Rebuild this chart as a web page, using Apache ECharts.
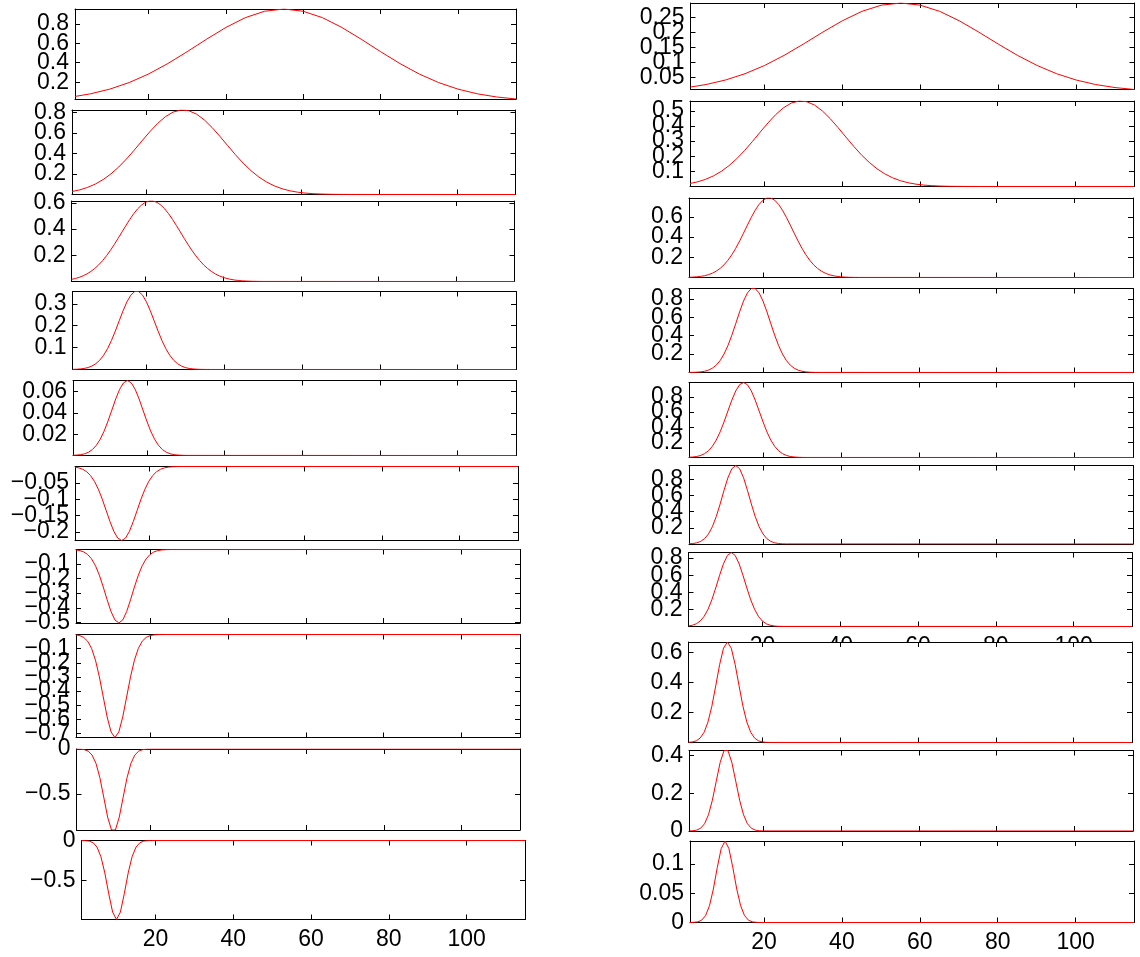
<!DOCTYPE html>
<html>
<head>
<meta charset="utf-8">
<script src="https://cdn.jsdelivr.net/npm/echarts@6/dist/echarts.min.js"></script>
<style>
  html, body { margin: 0; padding: 0; background: #fff; }
  #chart { width: 1140px; height: 957px; }
</style>
</head>
<body>
<div id="chart"></div>
<script>
// x axis of every panel
const xExtent = [1, 115];
const xTickValues = [20, 40, 60, 80, 100];

// left column curves, top to bottom, as [x, y] pairs
const curveL1 = [[1,0.0534],[5,0.0806],[10,0.1288],[15,0.196],[20,0.2839],[25,0.3914],[30,0.5135],[35,0.6413],[40,0.7622],[45,0.8625],[50,0.9288],[55,0.952],[60,0.9288],[65,0.8625],[70,0.7622],[75,0.6413],[80,0.5135],[85,0.3914],[90,0.2839],[95,0.196],[100,0.1288],[105,0.0806],[110,0.048],[115,0.0272]];
const curveL2 = [[1,0.0287],[3,0.0451],[5,0.0688],[7,0.1014],[9,0.1448],[11,0.1998],[13,0.2669],[15,0.3448],[17,0.431],[19,0.5212],[21,0.6098],[23,0.6903],[25,0.756],[27,0.8011],[29,0.8212],[31,0.8144],[33,0.7814],[35,0.7254],[37,0.6515],[39,0.5661],[41,0.4759],[43,0.3871],[45,0.3046],[47,0.2319],[49,0.1708],[51,0.1217],[53,0.0839],[55,0.056],[57,0.0361],[59,0.0225],[61,0.0136],[63,0.008],[65,0.0045],[67,0.0025],[69,0.0013],[71,0.0007],[75,0.0002],[115,0]];
const curveL3 = [[1,0.0162],[2,0.0229],[3,0.0318],[4,0.0434],[5,0.0582],[6,0.0768],[7,0.0996],[8,0.1269],[9,0.159],[10,0.1957],[11,0.2368],[12,0.2815],[13,0.329],[14,0.3779],[15,0.4266],[16,0.4733],[17,0.5161],[18,0.5531],[19,0.5826],[20,0.6031],[21,0.6136],[22,0.6136],[23,0.6031],[24,0.5826],[25,0.5531],[26,0.5161],[27,0.4733],[28,0.4266],[29,0.3779],[30,0.329],[31,0.2815],[32,0.2368],[33,0.1957],[34,0.159],[35,0.1269],[36,0.0996],[37,0.0768],[38,0.0582],[39,0.0434],[40,0.0318],[41,0.0229],[42,0.0162],[43,0.0112],[44,0.0077],[45,0.0052],[46,0.0034],[47,0.0022],[48,0.0014],[50,0.0005],[115,0]];
const curveL4 = [[1,0.0006],[2,0.0012],[3,0.0025],[4,0.0048],[5,0.0089],[6,0.0157],[7,0.0265],[8,0.0424],[9,0.065],[10,0.0948],[11,0.1319],[12,0.1752],[13,0.2219],[14,0.268],[15,0.3088],[16,0.3395],[17,0.3559],[18,0.3559],[19,0.3395],[20,0.3088],[21,0.268],[22,0.2219],[23,0.1752],[24,0.1319],[25,0.0948],[26,0.065],[27,0.0424],[28,0.0265],[29,0.0157],[30,0.0089],[31,0.0048],[32,0.0025],[33,0.0012],[34,0.0006],[36,0.0001],[115,0]];
const curveL5 = [[1,0.0002],[2,0.0004],[3,0.0008],[4,0.0016],[5,0.0031],[6,0.0056],[7,0.0095],[8,0.0152],[9,0.0228],[10,0.0322],[11,0.0426],[12,0.0531],[13,0.062],[14,0.0681],[15,0.0703],[16,0.0681],[17,0.062],[18,0.0531],[19,0.0426],[20,0.0322],[21,0.0228],[22,0.0152],[23,0.0095],[24,0.0056],[25,0.0031],[26,0.0016],[27,0.0008],[28,0.0004],[29,0.0002],[30,0.0001],[115,0]];
const curveL6 = [[1,-0.002],[2,-0.0042],[3,-0.0085],[4,-0.0158],[5,-0.0276],[6,-0.0451],[7,-0.0692],[8,-0.0993],[9,-0.1336],[10,-0.1681],[11,-0.1982],[12,-0.2187],[13,-0.226],[14,-0.2187],[15,-0.1982],[16,-0.1681],[17,-0.1336],[18,-0.0993],[19,-0.0692],[20,-0.0451],[21,-0.0276],[22,-0.0158],[23,-0.0085],[24,-0.0042],[25,-0.002],[26,-0.0009],[27,-0.0004],[28,-0.0001],[115,0]];
const curveL7 = [[1,-0.0031],[2,-0.0075],[3,-0.0168],[4,-0.0342],[5,-0.0642],[6,-0.1108],[7,-0.1759],[8,-0.2568],[9,-0.3447],[10,-0.4252],[11,-0.4823],[12,-0.503],[13,-0.4823],[14,-0.4252],[15,-0.3447],[16,-0.2568],[17,-0.1759],[18,-0.1108],[19,-0.0642],[20,-0.0342],[21,-0.0168],[22,-0.0075],[23,-0.0031],[24,-0.0012],[25,-0.0004],[115,0]];
const curveL8 = [[1,-0.0028],[2,-0.0081],[3,-0.0208],[4,-0.0478],[5,-0.0985],[6,-0.1816],[7,-0.2993],[8,-0.4415],[9,-0.5829],[10,-0.6886],[11,-0.728],[12,-0.6886],[13,-0.5829],[14,-0.4415],[15,-0.2993],[16,-0.1816],[17,-0.0985],[18,-0.0478],[19,-0.0208],[20,-0.0081],[21,-0.0028],[22,-0.0009],[23,-0.0002],[115,0]];
const curveL9 = [[1,-0.0004],[2,-0.0017],[3,-0.007],[4,-0.0234],[5,-0.0664],[6,-0.1581],[7,-0.3166],[8,-0.5331],[9,-0.7543],[10,-0.8973],[11,-0.8973],[12,-0.7543],[13,-0.5331],[14,-0.3166],[15,-0.1581],[16,-0.0664],[17,-0.0234],[18,-0.007],[19,-0.0017],[20,-0.0004],[115,0]];
const curveL10 = [[1,-0.0003],[2,-0.0018],[3,-0.0078],[4,-0.0283],[5,-0.0838],[6,-0.2038],[7,-0.407],[8,-0.6669],[9,-0.8969],[10,-0.99],[11,-0.8969],[12,-0.6669],[13,-0.407],[14,-0.2038],[15,-0.0838],[16,-0.0283],[17,-0.0078],[18,-0.0018],[19,-0.0003],[115,0]];

// right column curves, top to bottom
const curveR1 = [[1,0.0168],[5,0.0253],[10,0.0405],[15,0.0616],[20,0.0892],[25,0.1229],[30,0.1613],[35,0.2014],[40,0.2394],[45,0.2709],[50,0.2917],[55,0.299],[60,0.2917],[65,0.2709],[70,0.2394],[75,0.2014],[80,0.1613],[85,0.1229],[90,0.0892],[95,0.0616],[100,0.0405],[105,0.0253],[110,0.0151],[115,0.0086]];
const curveR2 = [[1,0.0198],[3,0.0311],[5,0.0474],[7,0.0698],[9,0.0997],[11,0.1376],[13,0.1838],[15,0.2374],[17,0.2968],[19,0.3589],[21,0.4199],[23,0.4753],[25,0.5206],[27,0.5516],[29,0.5654],[31,0.5607],[33,0.538],[35,0.4995],[37,0.4486],[39,0.3898],[41,0.3277],[43,0.2665],[45,0.2097],[47,0.1597],[49,0.1176],[51,0.0838],[53,0.0578],[55,0.0385],[57,0.0248],[59,0.0155],[61,0.0094],[63,0.0055],[65,0.0031],[67,0.0017],[69,0.0009],[71,0.0005],[75,0.0001],[115,0]];
const curveR3 = [[1,0.0023],[2,0.004],[3,0.0068],[4,0.0112],[5,0.018],[6,0.0281],[7,0.0426],[8,0.0629],[9,0.0902],[10,0.1258],[11,0.1709],[12,0.2256],[13,0.2896],[14,0.3617],[15,0.4393],[16,0.519],[17,0.5963],[18,0.6664],[19,0.7244],[20,0.7657],[21,0.7873],[22,0.7873],[23,0.7657],[24,0.7244],[25,0.6664],[26,0.5963],[27,0.519],[28,0.4393],[29,0.3617],[30,0.2896],[31,0.2256],[32,0.1709],[33,0.1258],[34,0.0902],[35,0.0629],[36,0.0426],[37,0.0281],[38,0.018],[39,0.0112],[40,0.0068],[41,0.004],[42,0.0023],[44,0.0007],[115,0]];
const curveR4 = [[1,0.0006],[2,0.0014],[3,0.0031],[4,0.0067],[5,0.0135],[6,0.0257],[7,0.0467],[8,0.0802],[9,0.1304],[10,0.201],[11,0.2935],[12,0.406],[13,0.532],[14,0.6606],[15,0.7769],[16,0.8657],[17,0.9138],[18,0.9138],[19,0.8657],[20,0.7769],[21,0.6606],[22,0.532],[23,0.406],[24,0.2935],[25,0.201],[26,0.1304],[27,0.0802],[28,0.0467],[29,0.0257],[30,0.0135],[31,0.0067],[32,0.0031],[33,0.0014],[34,0.0006],[115,0]];
const curveR5 = [[1,0.0029],[2,0.0065],[3,0.0137],[4,0.027],[5,0.0506],[6,0.089],[7,0.1475],[8,0.2305],[9,0.3393],[10,0.4706],[11,0.6151],[12,0.7574],[13,0.8789],[14,0.961],[15,0.99],[16,0.961],[17,0.8789],[18,0.7574],[19,0.6151],[20,0.4706],[21,0.3393],[22,0.2305],[23,0.1475],[24,0.089],[25,0.0506],[26,0.027],[27,0.0137],[28,0.0065],[29,0.0029],[30,0.0012],[31,0.0005],[115,0]];
const curveR6 = [[1,0.0023],[2,0.006],[3,0.0146],[4,0.0323],[5,0.0659],[6,0.1238],[7,0.2137],[8,0.3393],[9,0.4952],[10,0.6646],[11,0.8199],[12,0.9301],[13,0.97],[14,0.9301],[15,0.8199],[16,0.6646],[17,0.4952],[18,0.3393],[19,0.2137],[20,0.1238],[21,0.0659],[22,0.0323],[23,0.0146],[24,0.006],[25,0.0023],[26,0.0008],[115,0]];
const curveR7 = [[1,0.0062],[2,0.0146],[3,0.0318],[4,0.0636],[5,0.1172],[6,0.1993],[7,0.3121],[8,0.4507],[9,0.5998],[10,0.7355],[11,0.8314],[12,0.866],[13,0.8314],[14,0.7355],[15,0.5998],[16,0.4507],[17,0.3121],[18,0.1993],[19,0.1172],[20,0.0636],[21,0.0318],[22,0.0146],[23,0.0062],[24,0.0024],[25,0.0008],[115,0]];
const curveR8 = [[1,0.0011],[2,0.0038],[3,0.0113],[4,0.0293],[5,0.0673],[6,0.1356],[7,0.2407],[8,0.3763],[9,0.5176],[10,0.6267],[11,0.668],[12,0.6267],[13,0.5176],[14,0.3763],[15,0.2407],[16,0.1356],[17,0.0673],[18,0.0293],[19,0.0113],[20,0.0038],[21,0.0011],[22,0.0003],[115,0]];
const curveR9 = [[1,0.0003],[2,0.0014],[3,0.0048],[4,0.0148],[5,0.0387],[6,0.0862],[7,0.1635],[8,0.2642],[9,0.3639],[10,0.427],[11,0.427],[12,0.3639],[13,0.2642],[14,0.1635],[15,0.0862],[16,0.0387],[17,0.0148],[18,0.0048],[19,0.0014],[20,0.0003],[115,0]];
const curveR10 = [[1,0],[2,0.0003],[3,0.0011],[4,0.004],[5,0.0118],[6,0.0286],[7,0.0571],[8,0.0936],[9,0.1259],[10,0.139],[11,0.1259],[12,0.0936],[13,0.0571],[14,0.0286],[15,0.0118],[16,0.004],[17,0.0011],[18,0.0003],[19,0],[115,0]];

// y tick labels of each panel
const yTicksLeft = [
  [0.2, 0.4, 0.6, 0.8],
  [0.2, 0.4, 0.6, 0.8],
  [0.2, 0.4, 0.6],
  [0.1, 0.2, 0.3],
  [0.02, 0.04, 0.06],
  [-0.2, -0.15, -0.1, -0.05],
  [-0.5, -0.4, -0.3, -0.2, -0.1],
  [-0.7, -0.6, -0.5, -0.4, -0.3, -0.2, -0.1],
  [-0.5, 0],
  [-0.5, 0]
];
const yTicksRight = [
  [0.05, 0.1, 0.15, 0.2, 0.25],
  [0.1, 0.2, 0.3, 0.4, 0.5],
  [0.2, 0.4, 0.6],
  [0.2, 0.4, 0.6, 0.8],
  [0.2, 0.4, 0.6, 0.8],
  [0.2, 0.4, 0.6, 0.8],
  [0.2, 0.4, 0.6, 0.8],
  [0.2, 0.4, 0.6],
  [0, 0.2, 0.4],
  [0, 0.05, 0.1]
];

// panel boxes in pixels: [left, top, width, height]
const boxesLeft = [
  [75, 9, 441, 90],
  [72, 110, 443.5, 84.5],
  [71.5, 201, 443, 80.5],
  [72.5, 291.5, 443.5, 78],
  [73, 380.5, 443, 75],
  [75, 466.5, 443, 74],
  [76, 549.5, 444, 73.5],
  [76, 634.5, 444, 103],
  [76.5, 749, 443.5, 81],
  [81.5, 840.5, 443.5, 79]
];
const boxesRight = [
  [690.5, 3, 444, 86.5],
  [690, 101, 444, 85.5],
  [689, 198, 444, 79.5],
  [689, 288.5, 444, 84],
  [689, 382.5, 444, 75],
  [689, 465.5, 444, 78.5],
  [688.5, 552.5, 443.5, 74],
  [688.5, 642, 443.5, 100.5],
  [689, 750.5, 444, 80.5],
  [690, 841, 444, 81.5]
];

const curvesLeft = [curveL1, curveL2, curveL3, curveL4, curveL5, curveL6, curveL7, curveL8, curveL9, curveL10];
const curvesRight = [curveR1, curveR2, curveR3, curveR4, curveR5, curveR6, curveR7, curveR8, curveR9, curveR10];

const FONT = '"Liberation Sans", Arial, Helvetica, sans-serif';
const FONT_SIZE = 23;
// tightly packed tick labels are spread over this many stacked left axes so none is dropped
const LABEL_LAYERS = 3;

function fmt(v) {
  return v < 0 ? '\u2212' + String(-v) : String(v);
}

// panels list: the right column's 7th panel keeps its x labels, which the 8th panel partly covers
const panels = [];
for (let i = 0; i < 10; i++) {
  panels.push({ box: boxesLeft[i], data: curvesLeft[i], yTicks: yTicksLeft[i], xLabels: i === 9, cover: false });
}
for (let i = 0; i < 10; i++) {
  panels.push({ box: boxesRight[i], data: curvesRight[i], yTicks: yTicksRight[i], xLabels: i === 9 || i === 6, cover: i === 7 });
}

const option = {
  animation: false,
  backgroundColor: '#fff',
  grid: [],
  xAxis: [],
  yAxis: [],
  series: []
};

const lineBlack = { color: '#000', width: 1 };
const labelStyle = { fontFamily: FONT, fontSize: FONT_SIZE, color: '#000' };

panels.forEach((p, i) => {
  const [left, top, width, height] = p.box;
  let yMin = Infinity, yMax = -Infinity;
  p.data.forEach(d => { if (d[1] < yMin) yMin = d[1]; if (d[1] > yMax) yMax = d[1]; });
  const axisZ = p.cover ? 2 : 0;

  option.grid.push({
    left: left, top: top, width: width, height: height,
    show: p.cover, backgroundColor: '#fff', borderWidth: 0,
    z: p.cover ? 1 : 0
  });

  const xIndex = option.xAxis.length;
  ['bottom', 'top'].forEach(pos => {
    option.xAxis.push({
      gridIndex: i, type: 'value', min: xExtent[0], max: xExtent[1], position: pos,
      z: axisZ,
      axisLine: { show: true, onZero: false, lineStyle: lineBlack },
      axisTick: { show: true, inside: true, length: 5, customValues: xTickValues, lineStyle: lineBlack },
      axisLabel: Object.assign({
        show: pos === 'bottom' && p.xLabels, customValues: xTickValues,
        showMinLabel: true, showMaxLabel: true, hideOverlap: false, margin: 9
      }, labelStyle),
      splitLine: { show: false }
    });
  });

  const yIndex = option.yAxis.length;
  // framed left axis with ticks, plus label layers
  for (let layer = 0; layer < LABEL_LAYERS; layer++) {
    const labels = p.yTicks.filter((_, k) => k % LABEL_LAYERS === layer);
    if (layer > 0 && labels.length === 0) continue;
    option.yAxis.push({
      gridIndex: i, type: 'value', min: yMin, max: yMax, position: 'left', offset: 0,
      z: axisZ,
      axisLine: { show: layer === 0, onZero: false, lineStyle: lineBlack },
      axisTick: { show: layer === 0, inside: true, length: 5, customValues: p.yTicks, lineStyle: lineBlack },
      axisLabel: Object.assign({
        show: labels.length > 0, customValues: labels, formatter: fmt,
        showMinLabel: true, showMaxLabel: true, hideOverlap: false, margin: 6
      }, labelStyle),
      splitLine: { show: false }
    });
  }
  option.yAxis.push({
    gridIndex: i, type: 'value', min: yMin, max: yMax, position: 'right', offset: 0,
    z: axisZ,
    axisLine: { show: true, onZero: false, lineStyle: lineBlack },
    axisTick: { show: true, inside: true, length: 5, customValues: p.yTicks, lineStyle: lineBlack },
    axisLabel: { show: false },
    splitLine: { show: false }
  });

  option.series.push({
    type: 'line',
    xAxisIndex: xIndex,
    yAxisIndex: yIndex,
    data: p.data,
    showSymbol: false,
    symbol: 'none',
    silent: true,
    z: 3,
    lineStyle: { color: '#ff0000', width: 1 }
  });
});

const chart = echarts.init(document.getElementById('chart'), null, { renderer: 'canvas' });
chart.setOption(option);
</script>
</body>
</html>
